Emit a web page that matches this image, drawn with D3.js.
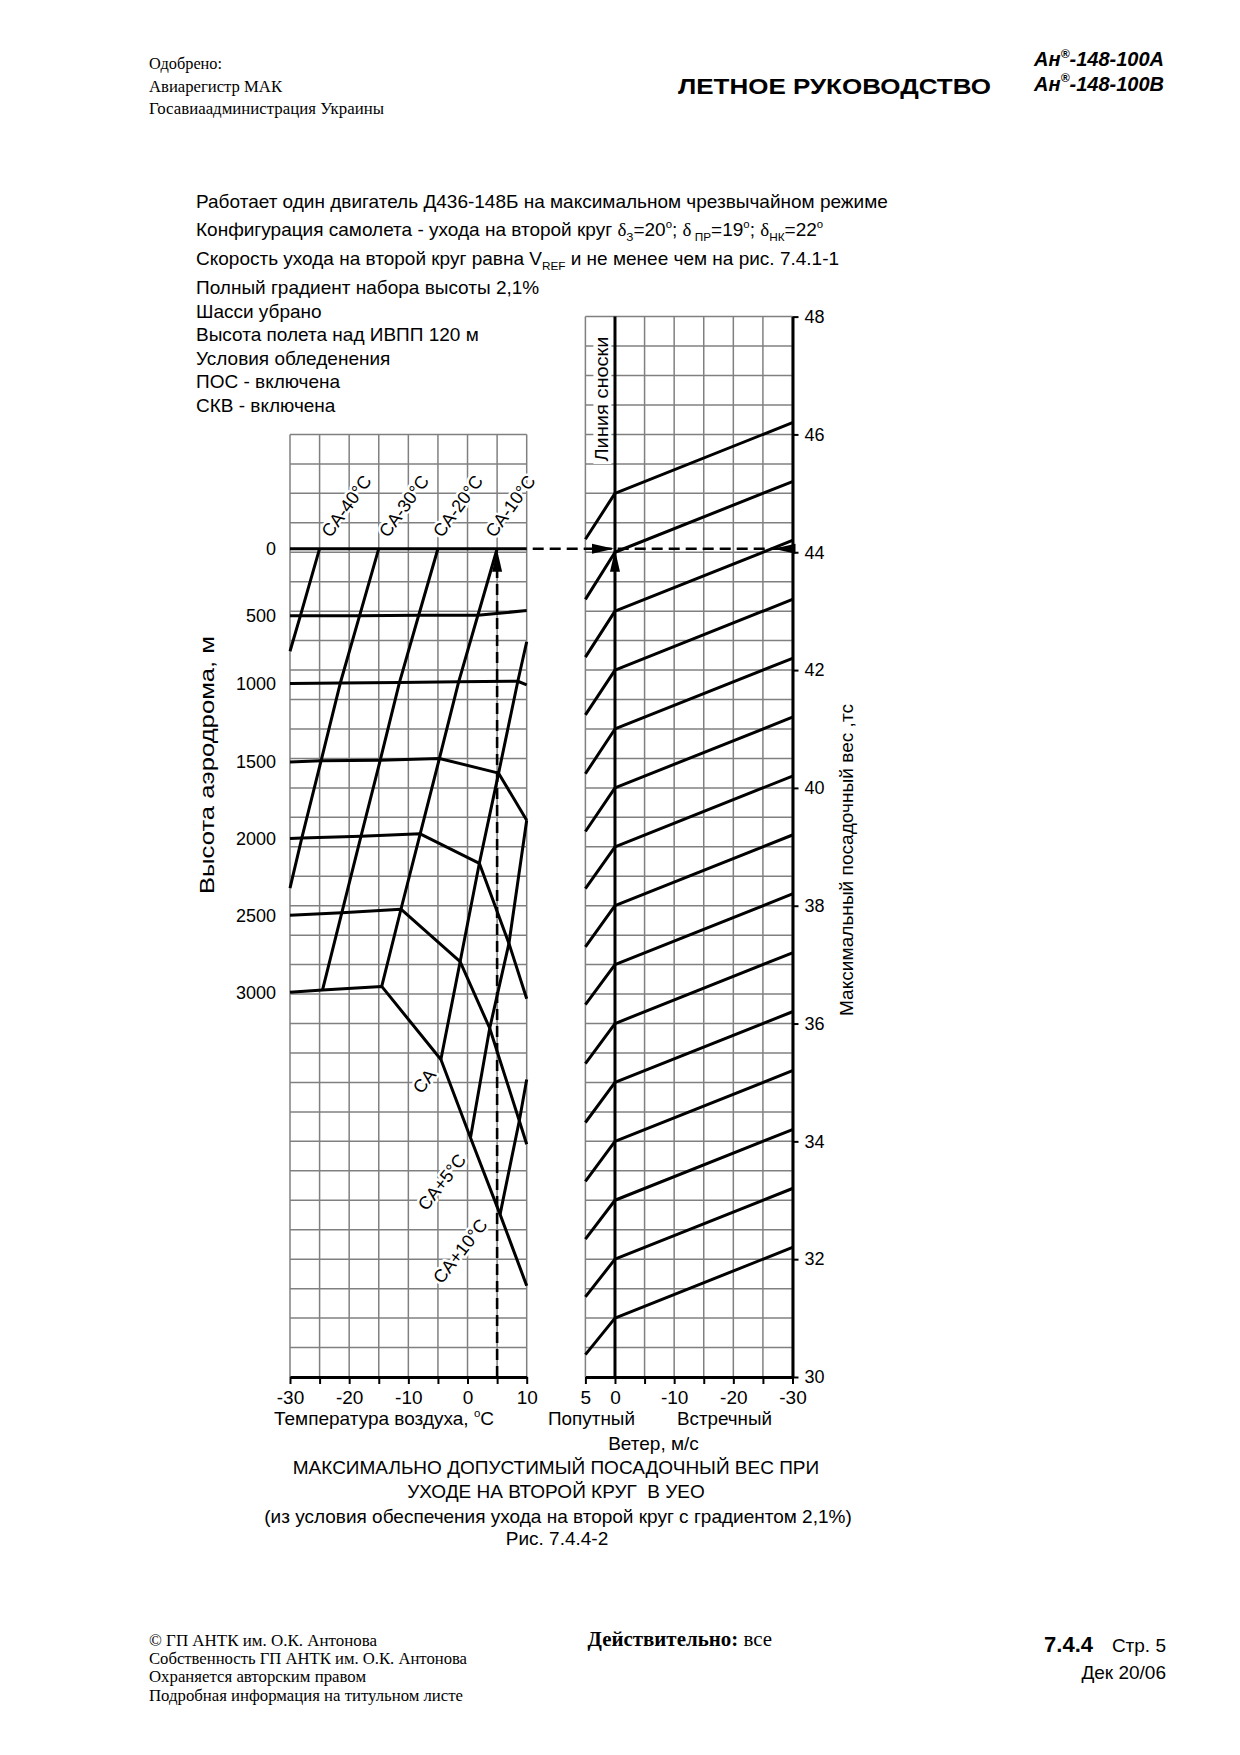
<!DOCTYPE html>
<html><head><meta charset="utf-8">
<script src="https://cdn.jsdelivr.net/npm/d3@7"></script>
<style>
body{margin:0;background:#fff;}
svg{display:block;}
.s{font-family:"Liberation Sans",Arial,sans-serif;}
.r{font-family:"Liberation Serif","Times New Roman",serif;}
</style></head><body>
<svg id="c" width="1240" height="1755" xmlns="http://www.w3.org/2000/svg"></svg>
<script>
// ---------------- DATA ----------------
// left panel: altitude curves (temperature °C, weight t)
const altitudeLabels = ["0","500","1000","1500","2000","2500","3000"];
const alt0    = [[-30,44.06],[10,44.06]];
const alt500  = [[-30,42.92],[-28.25,42.92],[-18.25,42.92],[-8.25,42.93],[1.75,42.93],[10,43.01]];
const alt1000 = [[-30,41.77],[-21.5,41.78],[-11.5,41.79],[-1.5,41.80],[8.5,41.81],[10,41.75]];
const alt1500 = [[-30,40.44],[-24.75,40.46],[-14.75,40.47],[-4.75,40.50],[5.25,40.25],[10,39.45]];
const alt2000 = [[-30,39.14],[-28,39.15],[-18,39.18],[-8,39.22],[2,38.72],[7,37.36],[10,36.42]];
const alt2500 = [[-30,37.84],[-21.25,37.88],[-11.25,37.94],[-1.25,37.05],[3.75,35.92],[8.75,34.35],[10,33.95]];
const alt3000 = [[-30,36.53],[-24.5,36.57],[-14.5,36.63],[-4.5,35.39],[0.5,34.06],[5.5,32.76],[10,31.55]];
const altitudeCurves = [alt0,alt500,alt1000,alt1500,alt2000,alt2500,alt3000];

// left panel: ISA deviation lines
const isaLabels = ["CA-40°C","CA-30°C","CA-20°C","CA-10°C","CA","CA+5°C","CA+10°C"];
const isaM40 = [[-25,44.06],[-28.25,42.92],[-30,42.32]];
const isaM30 = [[-15,44.06],[-18.25,42.92],[-21.5,41.78],[-24.75,40.46],[-28,39.15],[-30,38.30]];
const isaM20 = [[-5,44.06],[-8.25,42.93],[-11.5,41.79],[-14.75,40.47],[-18,39.18],[-21.25,37.88],[-24.5,36.57]];
const isaM10 = [[5,44.06],[1.75,42.93],[-1.5,41.80],[-4.75,40.50],[-8,39.22],[-11.25,37.94],[-14.5,36.63]];
const isa0   = [[10,42.48],[8.5,41.81],[5.25,40.25],[2,38.72],[-1.25,37.05],[-4.5,35.39]];
const isaP5  = [[10,39.45],[7,37.36],[3.75,35.92],[0.5,34.06]];
const isaP10 = [[10,35.05],[8.75,34.35],[5.5,32.76]];
const isaCurves = [isaM40,isaM30,isaM20,isaM10,isa0,isaP5,isaP10];

// right panel: wind correction lines (weight at 0 wind, at +5 tailwind, at -30 headwind)
const windBase = [45,44,43,42,41,40,39,38,37,36,35,34,33,32,31];
const windTail = [44.22,43.20,42.22,41.24,40.24,39.26,38.29,37.30,36.32,35.32,34.32,33.32,32.34,31.36,30.38];
const windHead = [46.2,45.2,44.2,43.2,42.2,41.2,40.2,39.2,38.2,37.2,36.2,35.2,34.2,33.2,32.2];

// example (dashed) : +5 °C, 0 m, 0 wind -> 44 t
const exampleTemp = 5, exampleWeight = 44.06;

// ticks
const tempTicks = [-30,-25,-20,-15,-10,-5,0,5,10];
const tempTickLabels = ["-30","","-20","","-10","","0","","10"];
const windTicks = [5,0,-5,-10,-15,-20,-25,-30];
const windTickLabels = ["5","0","","-10","","-20","","-30"];
const weightTicks = [48,46,44,42,40,38,36,34,32,30];

// ---------------- SCALES ----------------
const svg = d3.select("#c");
const yW = d3.scaleLinear().domain([30,48]).range([1377,316.6]);
const xT = d3.scaleLinear().domain([-30,10]).range([290,526.7]);
const xV = d3.scaleLinear().domain([5,-30]).range([585.4,792.5]);
const GRID = "#808080";
const FS = 19;

// ---------------- GRIDS ----------------
const g = svg.append("g").attr("stroke",GRID).attr("stroke-width",1.5);
d3.range(-30,10.01,5).forEach(t=>g.append("line").attr("x1",xT(t)).attr("x2",xT(t)).attr("y1",yW(30)).attr("y2",yW(46)));
d3.range(30,46.01,0.5).forEach(w=>g.append("line").attr("x1",xT(-30)).attr("x2",xT(10)).attr("y1",yW(w)).attr("y2",yW(w)));
d3.range(5,-30.01,-5).forEach(v=>g.append("line").attr("x1",xV(v)).attr("x2",xV(v)).attr("y1",yW(30)).attr("y2",yW(48)));
d3.range(30,48.01,0.5).forEach(w=>g.append("line").attr("x1",xV(5)).attr("x2",xV(-30)).attr("y1",yW(w)).attr("y2",yW(w)));

// ---------------- TEXT HELPERS ----------------
function txt(parent,x,y,s,opt={}){
  const t = parent.append("text").attr("x",x).attr("y",y).attr("class",opt.cls||"s")
    .attr("font-size",opt.size||FS).attr("fill","#000").text(s);
  if(opt.anchor) t.attr("text-anchor",opt.anchor);
  if(opt.weight) t.attr("font-weight",opt.weight);
  if(opt.style) t.attr("font-style",opt.style);
  if(opt.len) t.attr("textLength",opt.len).attr("lengthAdjust",opt.adj||"spacingAndGlyphs");
  if(opt.tr) t.attr("transform",opt.tr);
  return t;
}
function rich(parent,x,y,segs,size,opt={}){
  const t = parent.append("text").attr("x",x).attr("y",y).attr("class","s").attr("font-size",size).attr("fill","#000");
  if(opt.anchor) t.attr("text-anchor",opt.anchor);
  if(opt.weight) t.attr("font-weight",opt.weight);
  if(opt.style) t.attr("font-style",opt.style);
  let cur=0;
  segs.forEach(([s,k])=>{
    let target=0, fs=size, fam=null;
    if(k==="sub"){target=size*0.28; fs=size*0.62;}
    else if(k==="sup"){target=-size*0.42; fs=size*0.6;}
    else if(k==="gr"){fam="Liberation Serif";}
    const sp=t.append("tspan").attr("dy",target-cur).attr("font-size",fs).text(s);
    if(fam) sp.attr("font-family",fam);
    cur=target;
  });
  return t;
}

// ---------------- LABELS ON ISA LINES (with white halo) ----------------
const lab = svg.append("g");
const topLabelPos = [[330.5,538.5],[388,538.5],[442,538.5],[494.5,538.5]];
topLabelPos.forEach((p,i)=>{
  txt(lab,0,0,isaLabels[i],{size:18,tr:`translate(${p[0]},${p[1]}) rotate(-54)`})
   .attr("stroke","#fff").attr("stroke-width",5).attr("paint-order","stroke").attr("stroke-linejoin","round");
});
const lowLabelPos = [[437,1075],[467,1160],[488.5,1225]];
lowLabelPos.forEach((p,i)=>{
  txt(lab,0,0,isaLabels[4+i],{size:18,anchor:"end",tr:`translate(${p[0]},${p[1]}) rotate(-52)`})
   .attr("stroke","#fff").attr("stroke-width",5).attr("paint-order","stroke").attr("stroke-linejoin","round");
});

// "Линия сноски" with white background
svg.append("rect").attr("x",xV(5)+8).attr("y",334).attr("width",18).attr("height",130).attr("fill","#fff");
txt(svg,0,0,"Линия сноски",{size:19,anchor:"middle",len:125,tr:`translate(607.5,399) rotate(-90)`});

// ---------------- CURVES ----------------
const lineT = d3.line().x(d=>xT(d[0])).y(d=>yW(d[1]));
const cg = svg.append("g").attr("fill","none").attr("stroke","#000").attr("stroke-width",3).attr("stroke-linejoin","round");
altitudeCurves.forEach(c=>cg.append("path").attr("d",lineT(c)));
isaCurves.forEach(c=>cg.append("path").attr("d",lineT(c)));

// wind lines
const lineV = d3.line().x(d=>xV(d[0])).y(d=>yW(d[1]));
windBase.forEach((b,i)=>{
  cg.append("path").attr("d",lineV([[5,windTail[i]],[0,b],[-30,windHead[i]]]));
});

// drift line (0 wind)
cg.append("line").attr("x1",xV(0)).attr("x2",xV(0)).attr("y1",yW(30)).attr("y2",yW(48));

// ---------------- DASHED EXAMPLE ----------------
const dg = svg.append("g").attr("stroke","#000").attr("stroke-width",2.6).attr("stroke-dasharray","11,6").attr("fill","none");
dg.append("line").attr("x1",xT(exampleTemp)).attr("x2",xT(exampleTemp)).attr("y1",yW(30)).attr("y2",yW(exampleWeight)+20);
dg.append("line").attr("x1",xT(10)+6).attr("x2",xV(-30)).attr("y1",yW(exampleWeight)).attr("y2",yW(exampleWeight));
function arrow(x,y,dir){ // tip at x,y
  const L=22,H=5;
  let pts;
  if(dir==="up") pts=[[x,y],[x-H,y+L],[x+H,y+L]];
  if(dir==="right") pts=[[x,y],[x-L,y-H],[x-L,y+H]];
  if(dir==="left") pts=[[x,y],[x+L,y-H],[x+L,y+H]];
  svg.append("path").attr("d","M"+pts.map(p=>p.join(",")).join("L")+"Z").attr("fill","#000");
}
arrow(xT(exampleTemp),yW(exampleWeight)+1,"up");
arrow(xV(0)-1,yW(exampleWeight),"right");
arrow(xV(0),yW(exampleWeight)+1,"up");
arrow(xV(-30)-19,yW(exampleWeight),"left");

// ---------------- AXES ----------------
function styleAxis(ax,size){
  ax.select(".domain").attr("stroke","#000").attr("stroke-width",3);
  ax.selectAll(".tick line").attr("stroke","#000").attr("stroke-width",2);
  ax.selectAll(".tick text").attr("class","s").attr("font-size",size).attr("fill","#000");
  ax.attr("font-family",null).attr("font-size",null);
}
const axT = svg.append("g").attr("transform",`translate(0,${yW(30)})`)
  .call(d3.axisBottom(xT).tickValues(tempTicks).tickSize(7).tickSizeOuter(0)
  .tickFormat((d,i)=>tempTickLabels[i]));
styleAxis(axT,19); axT.selectAll(".tick text").attr("y",14);
const axV = svg.append("g").attr("transform",`translate(0,${yW(30)})`)
  .call(d3.axisBottom(xV).tickValues(windTicks).tickSize(7).tickSizeOuter(0)
  .tickFormat((d,i)=>windTickLabels[i]));
styleAxis(axV,19); axV.selectAll(".tick text").attr("y",14);
const axW = svg.append("g").attr("transform",`translate(${xV(-30)},0)`)
  .call(d3.axisRight(yW).tickValues(weightTicks).tickSize(6).tickPadding(6).tickSizeOuter(0));
styleAxis(axW,18);

// altitude labels
altitudeCurves.forEach((c,i)=>{
  txt(svg,276,yW(c[0][1])+6.5,altitudeLabels[i],{size:18,anchor:"end"});
});

// axis titles
txt(svg,0,0,"Высота аэродрома, м",{size:21,anchor:"middle",len:258,tr:"translate(214,765) rotate(-90)"});
txt(svg,0,0,"Максимальный посадочный вес ,тс",{size:19,anchor:"middle",len:312,tr:"translate(852.5,860) rotate(-90)"});
rich(svg,274,1424.5,[["Температура воздуха, ","n"],["o","sup"],["C","n"]],FS);
txt(svg,548,1424.5,"Попутный",{len:87});
txt(svg,677,1424.5,"Встречный",{len:95});
txt(svg,653.5,1450,"Ветер, м/с",{anchor:"middle"});
txt(svg,556,1473.5,"МАКСИМАЛЬНО ДОПУСТИМЫЙ ПОСАДОЧНЫЙ ВЕС ПРИ",{anchor:"middle"});
txt(svg,556,1498,"УХОДЕ НА ВТОРОЙ КРУГ  В УЕО",{anchor:"middle"}).style("white-space","pre");
txt(svg,558,1522.5,"(из условия обеспечения ухода на второй круг с градиентом 2,1%)",{anchor:"middle"});
txt(svg,557,1545,"Рис. 7.4.4-2",{anchor:"middle"});

// conditions block
const cx=196;
txt(svg,cx,208,"Работает один двигатель Д436-148Б на максимальном чрезвычайном режиме");
rich(svg,cx,236,[["Конфигурация самолета - ухода на второй круг ","n"],["δ","gr"],["З","sub"],["=20","n"],["o","sup"],["; ","n"],["δ","gr"],[" ПР","sub"],["=19","n"],["o","sup"],["; ","n"],["δ","gr"],["НК","sub"],["=22","n"],["o","sup"]],FS);
rich(svg,cx,265,[["Скорость ухода на второй круг равна V","n"],["REF","sub"],[" и не менее чем на рис. 7.4.1-1","n"]],FS);
txt(svg,cx,294,"Полный градиент набора высоты 2,1%");
txt(svg,cx,317.5,"Шасси убрано");
txt(svg,cx,341,"Высота полета над ИВПП 120 м");
txt(svg,cx,364.5,"Условия обледенения");
txt(svg,cx,388,"ПОС - включена");
txt(svg,cx,411.5,"СКВ - включена");

// ---------------- PAGE HEADER / FOOTER ----------------
txt(svg,149,69,"Одобрено:",{cls:"r",size:17,len:73});
txt(svg,149,91.5,"Авиарегистр МАК",{cls:"r",size:17,len:133});
txt(svg,149,114,"Госавиаадминистрация Украины",{cls:"r",size:17,len:235});
txt(svg,678,94,"ЛЕТНОЕ РУКОВОДСТВО",{size:22,weight:"bold",len:313});
rich(svg,1164,66,[["Ан","n"],["®","sup"],["-148-100А","n"]],20,{anchor:"end",weight:"bold",style:"italic"});
rich(svg,1164,90.5,[["Ан","n"],["®","sup"],["-148-100В","n"]],20,{anchor:"end",weight:"bold",style:"italic"});

txt(svg,149,1646,"© ГП АНТК им. О.К. Антонова",{cls:"r",size:16,len:228});
txt(svg,149,1664,"Собственность ГП АНТК им. О.К. Антонова",{cls:"r",size:16,len:318});
txt(svg,149,1682,"Охраняется авторским правом",{cls:"r",size:16,len:217});
txt(svg,149,1701,"Подробная информация на титульном листе",{cls:"r",size:16,len:314});
const dv = svg.append("text").attr("x",587.5).attr("y",1646).attr("class","r").attr("font-size",20).attr("fill","#000")
  .attr("textLength",184.5).attr("lengthAdjust","spacingAndGlyphs");
dv.append("tspan").attr("font-weight","bold").text("Действительно: ");
dv.append("tspan").text("все");
txt(svg,1093,1652,"7.4.4",{size:22,weight:"bold",anchor:"end"});
txt(svg,1166,1652,"Стр. 5",{size:19,anchor:"end"});
txt(svg,1166,1679,"Дек 20/06",{size:19,anchor:"end"});
</script>
</body></html>
